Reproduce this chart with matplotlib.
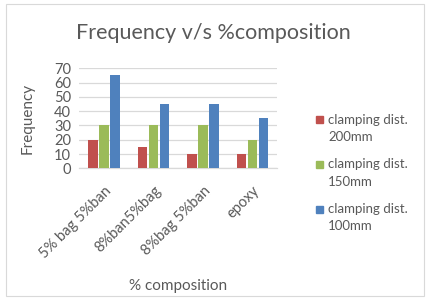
import numpy as np
import matplotlib.pyplot as plt
from matplotlib.patches import Rectangle

plt.rcParams['font.family'] = ['Lato', 'DejaVu Sans']

# data
categories = ['5% bag 5%ban', '8%ban5%bag', '8%bag 5%ban', 'epoxy']
series_names = ['clamping dist.\n200mm', 'clamping dist.\n150mm', 'clamping dist.\n100mm']
freq_200 = [20, 15, 10, 10]
freq_150 = [30, 30, 30, 20]
freq_100 = [65, 45, 45, 35]

COLORS = ['#C0504D', '#9BBB59', '#4F81BD']
TEXT = '#595959'
GRID = '#D9D9D9'

W, H = 428, 302
fig = plt.figure(figsize=(W / 100, H / 100), dpi=100)

# chart border
fig.patches.append(Rectangle((6 / W, 1 - 296 / H), 418 / W, 292 / H,
                             transform=fig.transFigure, fill=False,
                             edgecolor=GRID, linewidth=0.8))

ax = fig.add_axes([79.3 / W, 1 - 168.3 / H, 198 / W, 100 / H])

x = np.arange(len(categories))
bar_w = 0.188
step = 0.222
for i, (vals, col) in enumerate(zip([freq_200, freq_150, freq_100], COLORS)):
    ax.bar(x + (i - 1) * step, vals, width=bar_w, color=col, zorder=3)

ax.set_xlim(-0.5, len(categories) - 0.5)
ax.set_ylim(0, 70)
ax.set_yticks(range(0, 71, 10))
ax.grid(axis='y', color=GRID, linewidth=0.9, zorder=0)
for s in ['top', 'right', 'left']:
    ax.spines[s].set_visible(False)
ax.spines['bottom'].set_color(GRID)
ax.spines['bottom'].set_linewidth(0.9)
ax.tick_params(length=0, labelcolor=TEXT, labelsize=10.5)
ax.tick_params(axis='y', pad=6)
ax.tick_params(axis='x', pad=11)
ax.set_xticks(x)
ax.set_xticklabels(categories, rotation=45, ha='right', va='top',
                   rotation_mode='anchor')

ax.set_ylabel('Frequency', color=TEXT, fontsize=11, va='center')
ax.yaxis.set_label_coords(-0.26, 0.5)
ax.set_xlabel('% composition', color=TEXT, fontsize=11, va='center')
ax.xaxis.set_label_coords(0.5, -1.177)

fig.text(213 / W, 1 - 33 / H, 'Frequency v/s %composition', color=TEXT,
         fontsize=15.5, ha='center', va='center')

# legend, drawn by hand so the marker sits on the first text line
for i, (name, col) in enumerate(zip(series_names, COLORS)):
    yc = 120 + i * 44.5
    fig.patches.append(Rectangle((316 / W, 1 - (yc + 3.5) / H), 7 / W, 7 / H,
                                 transform=fig.transFigure, color=col))
    first, second = name.split('\n')
    fig.text(328 / W, 1 - yc / H, first, color=TEXT, fontsize=9.5,
             ha='left', va='center')
    fig.text(328 / W, 1 - (yc + 17) / H, second, color=TEXT, fontsize=9.5,
             ha='left', va='center')

fig.savefig('out.png', dpi=100)
